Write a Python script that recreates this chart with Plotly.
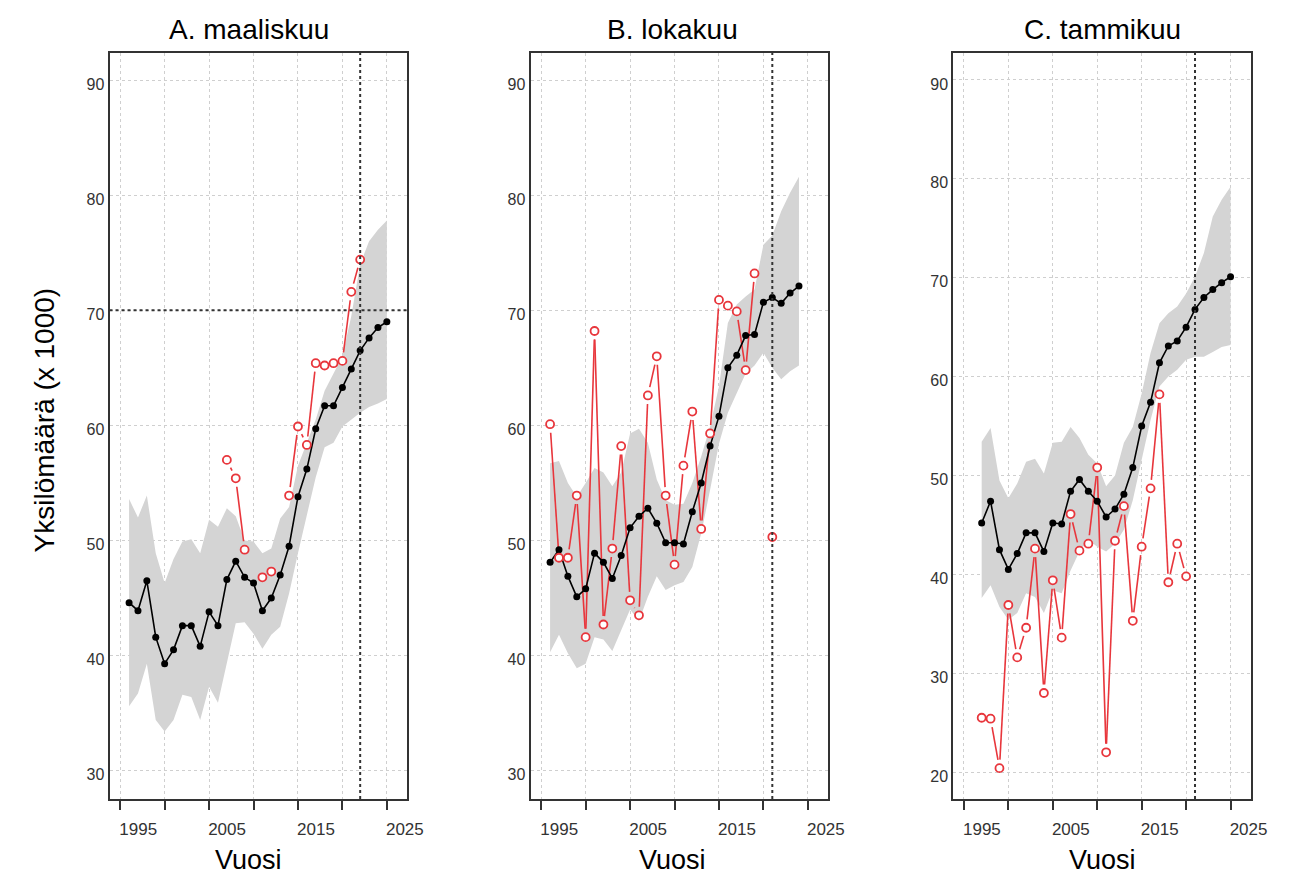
import math
import plotly.graph_objects as go

# ---------------- data ----------------
# Panel A (maaliskuu)
a_years = [1996, 1997, 1998, 1999, 2000, 2001, 2002, 2003, 2004, 2005,
           2006, 2007, 2008, 2009, 2010, 2011, 2012, 2013, 2014, 2015,
           2016, 2017, 2018, 2019, 2020, 2021, 2022, 2023, 2024, 2025]
a_model = [44.6, 43.9, 46.5, 41.6, 39.3, 40.5, 42.6, 42.6, 40.8, 43.8,
           42.6, 46.6, 48.2, 46.8, 46.3, 43.9, 45.0, 47.0, 49.5, 53.8,
           56.2, 59.7, 61.7, 61.7, 63.3, 64.9, 66.5, 67.6, 68.5, 69.0]
a_upper = [53.6, 52.0, 53.9, 48.9, 46.3, 48.4, 49.9, 50.1, 48.9, 51.8,
           51.2, 52.8, 52.1, 50.0, 49.9, 48.9, 49.3, 51.9, 52.9, 56.5,
           58.5, 60.5, 63.0, 64.5, 66.0, 69.5, 74.0, 76.0, 77.0, 77.8]
a_lower = [35.6, 36.7, 39.3, 34.4, 33.4, 34.4, 36.6, 36.4, 34.4, 37.3,
           35.9, 39.3, 42.8, 42.9, 41.9, 40.6, 41.8, 42.5, 45.4, 48.9,
           52.1, 55.5, 58.1, 58.5, 59.9, 60.5, 61.1, 61.6, 61.9, 62.3]
a_obs_years = [2007, 2008, 2009, 2011, 2012, 2014, 2015, 2016, 2017, 2018,
               2019, 2020, 2021, 2022]
a_obs = [57.0, 55.4, 49.2, 46.8, 47.3, 53.9, 59.9, 58.3, 65.4, 65.2,
         65.4, 65.6, 71.6, 74.4]

# Panel B (lokakuu)
b_years = [1996, 1997, 1998, 1999, 2000, 2001, 2002, 2003, 2004, 2005,
           2006, 2007, 2008, 2009, 2010, 2011, 2012, 2013, 2014, 2015,
           2016, 2017, 2018, 2019, 2020, 2021, 2022, 2023, 2024]
b_model = [48.1, 49.2, 46.9, 45.1, 45.8, 48.9, 48.1, 46.7, 48.7, 51.1,
           52.1, 52.8, 51.5, 49.8, 49.8, 49.7, 52.5, 55.0, 58.2, 60.8,
           65.0, 66.1, 67.8, 67.9, 70.7, 71.1, 70.6, 71.5, 72.1]
b_upper = [56.7, 56.9, 55.0, 53.8, 55.0, 56.3, 55.9, 54.7, 55.9, 59.3,
           59.7, 58.5, 55.3, 53.5, 53.1, 53.2, 55.0, 57.3, 59.9, 63.4,
           68.9, 70.5, 71.2, 71.8, 75.7, 76.5, 78.6, 80.2, 81.6]
b_lower = [40.3, 41.8, 40.2, 38.9, 39.3, 41.6, 41.4, 40.4, 42.2, 44.0,
           43.0, 45.1, 46.9, 45.7, 46.1, 46.4, 47.7, 50.6, 54.4, 58.4,
           61.1, 62.8, 64.5, 65.2, 66.3, 65.0, 64.0, 64.7, 65.2]
b_obs_years = [1996, 1997, 1998, 1999, 2000, 2001, 2002, 2003, 2004, 2005,
               2006, 2007, 2008, 2009, 2010, 2011, 2012, 2013, 2014, 2015,
               2016, 2017, 2018, 2019, 2021]
b_obs = [60.1, 48.5, 48.5, 53.9, 41.6, 68.2, 42.7, 49.3, 58.2, 44.8,
         43.5, 62.6, 66.0, 53.9, 47.9, 56.5, 61.2, 51.0, 59.3, 70.9,
         70.4, 69.9, 64.8, 73.2, 50.3]

# Panel C (tammikuu)
c_years = [1997, 1998, 1999, 2000, 2001, 2002, 2003, 2004, 2005, 2006,
           2007, 2008, 2009, 2010, 2011, 2012, 2013, 2014, 2015, 2016,
           2017, 2018, 2019, 2020, 2021, 2022, 2023, 2024, 2025]
c_model = [45.2, 47.4, 42.5, 40.5, 42.1, 44.2, 44.2, 42.3, 45.2, 45.1,
           48.4, 49.6, 48.4, 47.4, 45.8, 46.6, 48.1, 50.8, 55.0, 57.4,
           61.4, 63.1, 63.6, 65.0, 66.8, 68.0, 68.8, 69.5, 70.1]
c_upper = [53.4, 54.8, 49.5, 47.7, 49.2, 51.4, 51.7, 50.2, 53.3, 53.4,
           54.9, 53.8, 52.1, 51.2, 48.9, 50.0, 53.3, 54.9, 58.3, 62.4,
           65.4, 66.4, 67.1, 68.4, 70.1, 72.5, 76.2, 77.9, 79.2]
c_lower = [37.6, 38.9, 36.7, 35.4, 36.1, 38.1, 37.7, 36.1, 38.4, 38.1,
           40.4, 42.3, 43.5, 42.8, 42.3, 43.1, 44.5, 47.5, 51.6, 55.6,
           59.0, 60.0, 60.7, 61.7, 62.0, 62.0, 62.5, 63.0, 63.2]
c_obs_years = [1997, 1998, 1999, 2000, 2001, 2002, 2003, 2004, 2005, 2006,
               2007, 2008, 2009, 2010, 2011, 2012, 2013, 2014, 2015, 2016,
               2017, 2018, 2019, 2020]
c_obs = [25.5, 25.4, 20.4, 36.9, 31.6, 34.6, 42.6, 28.0, 39.4, 33.6,
         46.1, 42.4, 43.1, 50.8, 22.0, 43.4, 46.9, 35.3, 42.8, 48.7,
         58.2, 39.2, 43.1, 39.8]

titles = ["A. maaliskuu", "B. lokakuu", "C. tammikuu"]
x_label = "Vuosi"
y_label = "Yksilömäärä (x 1000)"
x_tickvals = [1995, 2000, 2005, 2010, 2015, 2020, 2025]
x_ticktext = ["1995", "", "2005", "", "2015", "", "2025"]
y_ticks_ab = [30, 40, 50, 60, 70, 80, 90]
y_ticks_c = [20, 30, 40, 50, 60, 70, 80, 90]
vline_years = [2022, 2021, 2021]
hline_a = 70

# ---------------- layout constants ----------------
W, H = 1291, 880
x_range = [1993.8, 2027.3]
px_per_year = 9.0
panel_left = [110.9, 537.2, 965.2]
panel_w = px_per_year * (x_range[1] - x_range[0])
plot_top, plot_bottom = 53, 799
y_ranges = [[27.54, 92.35], [27.54, 92.35], [17.28, 92.73]]
title_cx = [252, 681, 1116]

RED = "#e8363c"
GREY = "#d4d4d4"
FONT = "Arial, Liberation Sans, sans-serif"


def gapped(xs, ys, kx, ky, gap=8.5):
    """R type='b' style segments: shortened so they stop short of points."""
    ox, oy = [], []
    for i in range(len(xs) - 1):
        if xs[i + 1] - xs[i] != 1:
            continue
        dxu, dyu = xs[i + 1] - xs[i], ys[i + 1] - ys[i]
        L = math.hypot(dxu * kx, dyu * ky)
        if L <= 2 * gap:
            continue
        f = gap / L
        ox += [xs[i] + dxu * f, xs[i + 1] - dxu * f, None]
        oy += [ys[i] + dyu * f, ys[i + 1] - dyu * f, None]
    return ox, oy


panels = [
    (a_years, a_model, a_upper, a_lower, a_obs_years, a_obs),
    (b_years, b_model, b_upper, b_lower, b_obs_years, b_obs),
    (c_years, c_model, c_upper, c_lower, c_obs_years, c_obs),
]

fig = go.Figure()
shapes = []
annotations = []
ydom = [1 - plot_bottom / H, 1 - plot_top / H]

for i, (yrs, mod, up, lo, oyrs, obs) in enumerate(panels):
    n = "" if i == 0 else str(i + 1)
    xa, ya = "x" + n, "y" + n
    yr = y_ranges[i]
    ky = (plot_bottom - plot_top) / (yr[1] - yr[0])

    # band
    fig.add_trace(go.Scatter(x=yrs, y=up, mode="lines", line=dict(width=0, color=GREY),
                             xaxis=xa, yaxis=ya, showlegend=False, hoverinfo="skip"))
    fig.add_trace(go.Scatter(x=yrs, y=lo, mode="lines", line=dict(width=0, color=GREY),
                             fill="tonexty", fillcolor=GREY,
                             xaxis=xa, yaxis=ya, showlegend=False, hoverinfo="skip"))
    # observed red segments
    sx, sy = gapped(oyrs, obs, px_per_year, ky)
    fig.add_trace(go.Scatter(x=sx, y=sy, mode="lines", line=dict(color=RED, width=1.6),
                             xaxis=xa, yaxis=ya, showlegend=False, hoverinfo="skip"))
    # model line
    fig.add_trace(go.Scatter(x=yrs, y=mod, mode="lines+markers",
                             line=dict(color="black", width=1.6),
                             marker=dict(color="black", size=7, symbol="circle"),
                             xaxis=xa, yaxis=ya, showlegend=False))
    # observed points
    fig.add_trace(go.Scatter(x=oyrs, y=obs, mode="markers",
                             marker=dict(color="white", size=8, symbol="circle",
                                         line=dict(color=RED, width=1.8)),
                             xaxis=xa, yaxis=ya, showlegend=False))

    left = panel_left[i] / W
    right = (panel_left[i] + panel_w) / W
    fig.layout["xaxis" + n] = dict(
        domain=[left, right], range=x_range, anchor=ya,
        tickvals=x_tickvals, ticktext=x_ticktext, ticks="outside", ticklen=9,
        tickwidth=2, tickcolor="#333", ticklabelshift=18, ticklabelstandoff=5,
        tickfont=dict(family=FONT, size=17, color="#333"),
        showline=True, linecolor="#333", linewidth=2, mirror=True,
        showgrid=True, gridcolor="#cfcfcf", griddash="dot", gridwidth=1.2,
        zeroline=False, fixedrange=True)
    yt = y_ticks_c if i == 2 else y_ticks_ab
    fig.layout["yaxis" + n] = dict(
        domain=ydom, range=yr, anchor=xa,
        tickvals=yt, ticktext=[str(v) for v in yt], ticks="",
        tickfont=dict(family=FONT, size=16, color="#333"),
        ticklabelstandoff=0, ticklabelshift=4,
        showline=True, linecolor="#333", linewidth=2, mirror=True,
        showgrid=True, gridcolor="#cfcfcf", griddash="dot", gridwidth=1.2,
        zeroline=False, fixedrange=True)

    # vertical dotted line
    shapes.append(dict(type="line", xref=xa, yref=ya + " domain",
                       x0=vline_years[i], x1=vline_years[i], y0=0, y1=1,
                       line=dict(color="#333", width=2, dash="dot")))
    if i == 0:
        shapes.append(dict(type="line", xref=xa + " domain", yref=ya,
                           x0=0, x1=1, y0=hline_a, y1=hline_a,
                           line=dict(color="#333", width=2, dash="dot")))

    annotations.append(dict(text=titles[i], x=title_cx[i] / W, y=1 - 30 / H,
                            xref="paper", yref="paper", showarrow=False,
                            xanchor="center", yanchor="middle",
                            font=dict(family=FONT, size=28, color="black")))
    annotations.append(dict(text=x_label, x=title_cx[i] / W, y=1 - 860 / H,
                            xref="paper", yref="paper", showarrow=False,
                            xanchor="center", yanchor="middle",
                            font=dict(family=FONT, size=27, color="black")))

annotations.append(dict(text=y_label, x=45 / W, y=1 - 420 / H, xref="paper", yref="paper",
                        showarrow=False, textangle=-90, xanchor="center", yanchor="middle",
                        font=dict(family=FONT, size=28, color="black")))

fig.update_layout(width=W, height=H, autosize=False,
                  margin=dict(l=0, r=0, t=0, b=0),
                  paper_bgcolor="white", plot_bgcolor="white",
                  shapes=shapes, annotations=annotations)

fig.write_html("out.html", config={"displayModeBar": False},
               post_script="document.body.style.margin='0';document.body.style.overflow='hidden';")
